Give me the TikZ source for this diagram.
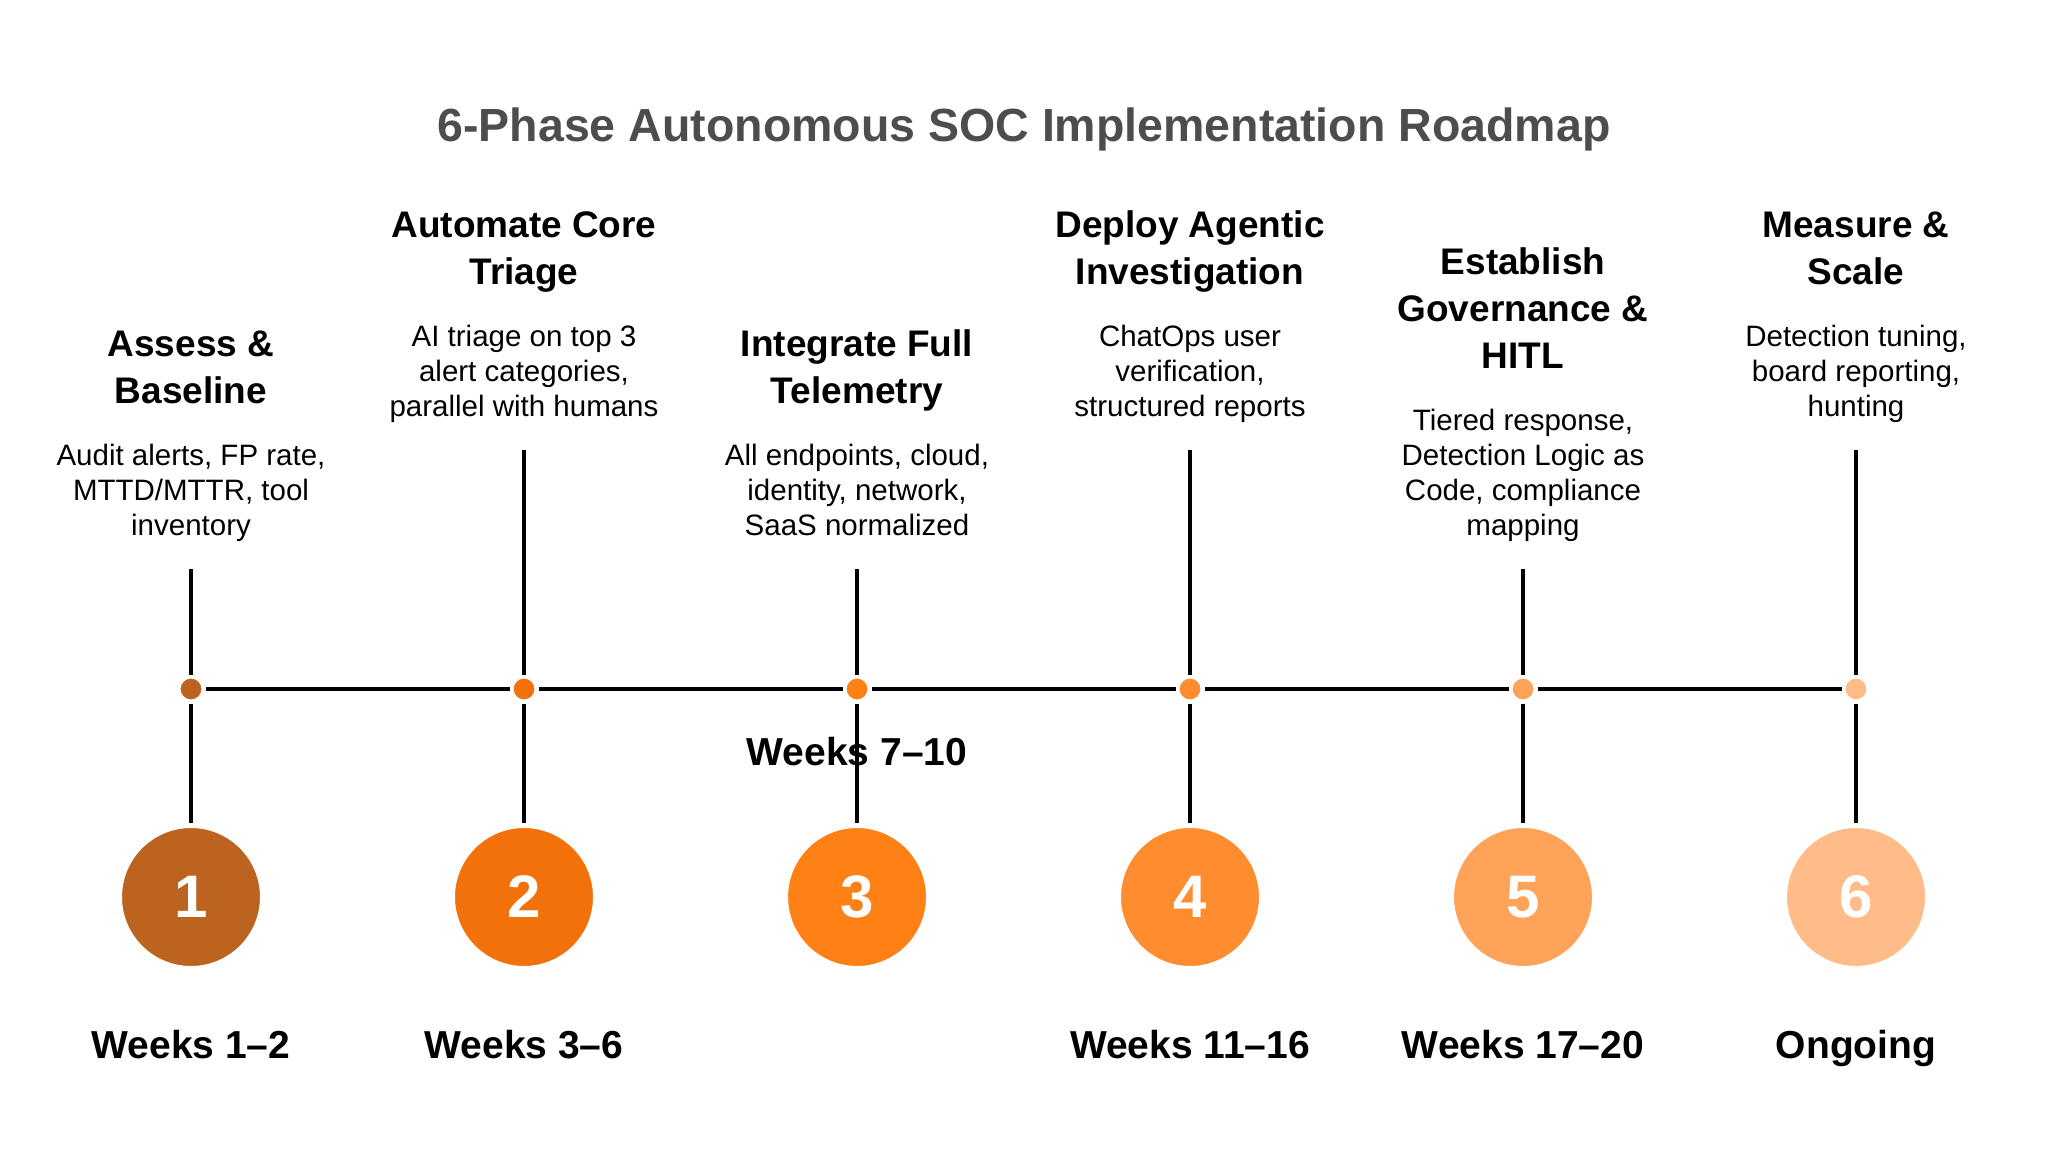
\documentclass[tikz,border=0pt]{standalone}
\usepackage{fontspec}
\setmainfont{Liberation Sans}
\definecolor{phaseA}{HTML}{BC631F}
\definecolor{phaseB}{HTML}{F2710B}
\definecolor{phaseC}{HTML}{FF8116}
\definecolor{phaseD}{HTML}{FF8C2E}
\definecolor{phaseE}{HTML}{FFA359}
\definecolor{phaseF}{HTML}{FFBC88}
\definecolor{titlegray}{HTML}{4D4D4D}

\begin{document}
\begin{tikzpicture}[
  x=0.5pt, y=-0.5pt,
  title/.style={font=\fontsize{23.25}{28}\selectfont\bfseries,text=titlegray,anchor=base,inner sep=0},
  head/.style={font=\fontsize{18.5}{23.5}\selectfont\bfseries,align=center,anchor=south,inner sep=0,text depth=0pt},
  desc/.style={font=\fontsize{14.75}{17.5}\selectfont,align=center,anchor=south,inner sep=0,text depth=0pt},
  week/.style={font=\fontsize{19.5}{23}\selectfont\bfseries,anchor=base,inner sep=0},
  dot/.style={circle,minimum size=12.5pt,inner sep=0,draw=white,line width=2pt},
  phase/.style={circle,minimum size=71.5pt,inner sep=0,draw=white,line width=2.5pt,text=white,font=\fontsize{30}{30}\selectfont\bfseries},
  link/.style={line width=1.6pt,black}
]
\useasboundingbox (0,0) rectangle (2048,1165);

\node[title] (ttl) at (1024,142) {6-Phase Autonomous SOC Implementation Roadmap};

% timeline marks
\node[dot,fill=phaseA] (dot1) at (191,689) {};
\node[dot,fill=phaseB] (dot2) at (524,689) {};
\node[dot,fill=phaseC] (dot3) at (857,689) {};
\node[dot,fill=phaseD] (dot4) at (1190,689) {};
\node[dot,fill=phaseE] (dot5) at (1523,689) {};
\node[dot,fill=phaseF] (dot6) at (1856,689) {};

% numbered circles
\node[phase,fill=phaseA] (ph1) at (191,897) {1};
\node[phase,fill=phaseB] (ph2) at (524,897) {2};
\node[phase,fill=phaseC] (ph3) at (857,897) {3};
\node[phase,fill=phaseD] (ph4) at (1190,897) {4};
\node[phase,fill=phaseE] (ph5) at (1523,897) {5};
\node[phase,fill=phaseF] (ph6) at (1856,897) {6};

% durations
\node[week] (wk1) at (191,1058) {Weeks 1–2};
\node[week] (wk2) at (524,1058) {Weeks 3–6};
\node[week] (wk3) at (857,765) {Weeks 7–10};
\node[week] (wk4) at (1190,1058) {Weeks 11–16};
\node[week] (wk5) at (1523,1058) {Weeks 17–20};
\node[week] (wk6) at (1856,1058) {Ongoing};

% phase texts
\coordinate (top1) at (191,569);
\coordinate (top2) at (524,450);
\coordinate (top3) at (857,569);
\coordinate (top4) at (1190,450);
\coordinate (top5) at (1523,569);
\coordinate (top6) at (1856,450);

\node[desc] (ds1) at (191,536) {Audit alerts, FP rate,\\MTTD/MTTR, tool\\inventory};
\node[head] (hd1) at (191,404) {Assess \&\\Baseline};
\node[desc] (ds2) at (524,417) {AI triage on top 3\\alert categories,\\parallel with humans};
\node[head] (hd2) at (524,285) {Automate Core\\Triage};
\node[desc] (ds3) at (857,536) {All endpoints, cloud,\\identity, network,\\SaaS normalized};
\node[head] (hd3) at (857,404) {Integrate Full\\Telemetry};
\node[desc] (ds4) at (1190,417) {ChatOps user\\verification,\\structured reports};
\node[head] (hd4) at (1190,285) {Deploy Agentic\\Investigation};
\node[desc] (ds5) at (1523,536) {Tiered response,\\Detection Logic as\\Code, compliance\\mapping};
\node[head] (hd5) at (1523,369) {Establish\\Governance \&\\HITL};
\node[desc] (ds6) at (1856,417) {Detection tuning,\\board reporting,\\hunting};
\node[head] (hd6) at (1856,285) {Measure \&\\Scale};

\path (dot1) edge[link] (dot2)
(dot2) edge[link] (dot3)
(dot3) edge[link] (dot4)
(dot4) edge[link] (dot5)
(dot5) edge[link] (dot6);

\path (top1) edge[link] (dot1) (dot1) edge[link] (ph1)
(top2) edge[link] (dot2) (dot2) edge[link] (ph2)
(top3) edge[link] (dot3) (dot3) edge[link] (ph3)
(top4) edge[link] (dot4) (dot4) edge[link] (ph4)
(top5) edge[link] (dot5) (dot5) edge[link] (ph5)
(top6) edge[link] (dot6) (dot6) edge[link] (ph6);
\end{tikzpicture}
\end{document}
